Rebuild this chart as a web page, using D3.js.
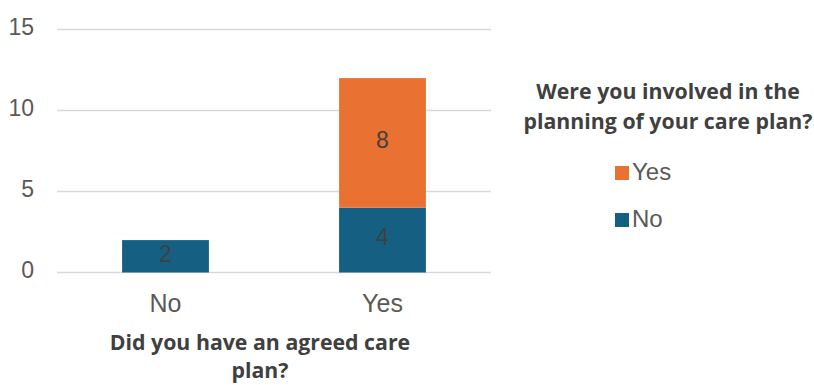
<!DOCTYPE html>
<html>
<head>
<meta charset="utf-8">
<script src="https://cdn.jsdelivr.net/npm/d3@7"></script>
<style>
	body { margin: 0; background: #fff; }
	.tick-text { font-family: 'Liberation Sans Narrow', 'Arial Narrow', 'Liberation Sans', sans-serif; fill: #595959; }
	.title { font-family: 'Open Sans', sans-serif; font-weight: 700; fill: #404040; }
</style>
</head>
<body>
<div id="chart"></div>
<script>
const categories = ['No', 'Yes'];
const seriesNames = ['No', 'Yes'];
const seriesNo = [2, 4];
const seriesYes = [0, 8];
const yTicks = [0, 5, 10, 15];
const colors = { No: '#156082', Yes: '#E97132' };

const width = 814, height = 385;
const svg = d3.select('#chart').append('svg')
	.attr('width', width)
	.attr('height', height);

const x = d3.scaleBand()
	.domain(categories)
	.range([57, 491])
	.paddingInner(0.6)
	.paddingOuter(0.3);

const y = d3.scaleLinear()
	.domain([0, 15])
	.range([272.5, 29.5]);

// gridlines
svg.append('g')
	.selectAll('line')
	.data(yTicks)
	.join('line')
	.attr('x1', 57)
	.attr('x2', 491)
	.attr('y1', (d) => y(d))
	.attr('y2', (d) => y(d))
	.attr('stroke', '#d9d9d9')
	.attr('stroke-width', 1.5);

// y tick labels
svg.append('g')
	.selectAll('text')
	.data(yTicks)
	.join('text')
	.attr('class', 'tick-text')
	.attr('x', 34)
	.attr('y', (d) => y(d) - 3)
	.attr('dy', '0.36em')
	.attr('text-anchor', 'end')
	.attr('font-size', 23)
	.text((d) => d);

// stacked bars
const rows = categories.map((c, i) => ({ cat: c, No: seriesNo[i], Yes: seriesYes[i] }));
const stacked = d3.stack().keys(seriesNames)(rows);

const layer = svg.append('g')
	.selectAll('g')
	.data(stacked)
	.join('g')
	.attr('fill', (d) => colors[d.key]);

layer.selectAll('rect')
	.data((d) => d.filter((p) => p[1] > p[0]))
	.join('rect')
	.attr('x', (d) => x(d.data.cat))
	.attr('width', x.bandwidth())
	.attr('y', (d) => y(d[1]))
	.attr('height', (d) => y(d[0]) - y(d[1]));

layer.selectAll('text')
	.data((d) => d.filter((p) => p[1] > p[0]))
	.join('text')
	.attr('class', 'tick-text')
	.attr('x', (d) => x(d.data.cat) + x.bandwidth() / 2)
	.attr('y', (d) => y((d[0] + d[1]) / 2) - 3)
	.attr('dy', '0.36em')
	.attr('text-anchor', 'middle')
	.attr('font-size', 23)
	.style('fill', '#404040')
	.text((d) => d[1] - d[0]);

// x labels
svg.append('g')
	.selectAll('text')
	.data(categories)
	.join('text')
	.attr('class', 'tick-text')
	.attr('x', (d) => x(d) + x.bandwidth() / 2)
	.attr('y', 303)
	.attr('dy', '0.36em')
	.attr('text-anchor', 'middle')
	.attr('font-size', 25)
	.text((d) => d);

// axis title
const xTitle = svg.append('text')
	.attr('class', 'title')
	.attr('text-anchor', 'middle')
	.attr('font-size', 21.3);
xTitle.append('tspan').attr('x', 260).attr('y', 350).text('Did you have an agreed care');
xTitle.append('tspan').attr('x', 260).attr('y', 378).text('plan?');

// legend
const legTitle = svg.append('text')
	.attr('class', 'title')
	.attr('text-anchor', 'middle')
	.attr('font-size', 21.3);
legTitle.append('tspan').attr('x', 668).attr('y', 99).text('Were you involved in the');
legTitle.append('tspan').attr('x', 668).attr('y', 129).text('planning of your care plan?');

const legendKeys = ['Yes', 'No'];
const legend = svg.append('g')
	.selectAll('g')
	.data(legendKeys)
	.join('g')
	.attr('transform', (d, i) => `translate(615, ${173 + i * 47})`);

legend.append('rect')
	.attr('x', 0)
	.attr('y', -7)
	.attr('width', 14)
	.attr('height', 14)
	.attr('fill', (d) => colors[d]);

legend.append('text')
	.attr('class', 'tick-text')
	.attr('x', 17)
	.attr('y', -2)
	.attr('dy', '0.36em')
	.attr('font-size', 24)
	.text((d) => d);
</script>
</body>
</html>
